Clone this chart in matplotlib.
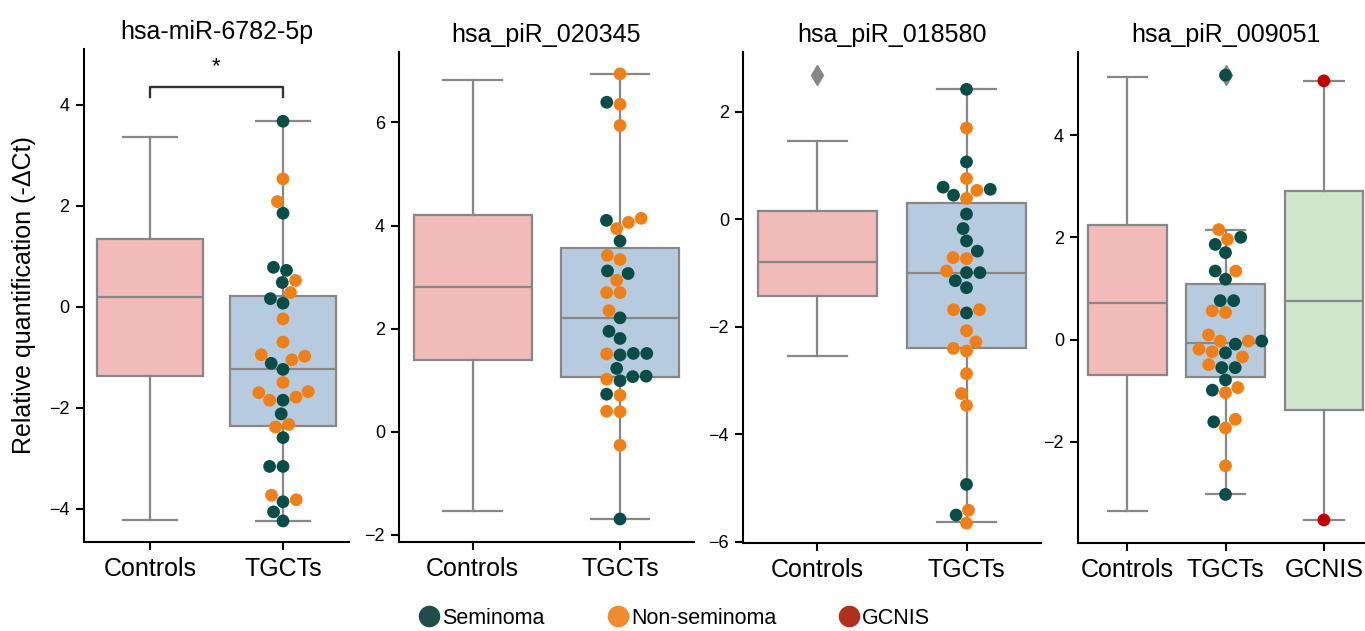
import pandas as pd
import matplotlib
matplotlib.use("Agg")
import matplotlib.pyplot as plt
from matplotlib.lines import Line2D
import seaborn as sns

plt.rcParams['font.family'] = ['Liberation Sans', 'DejaVu Sans']

# ---- data ----
titles = ["hsa-miR-6782-5p", "hsa_piR_020345", "hsa_piR_018580", "hsa_piR_009051"]
subtypes = ["Seminoma", "Non-seminoma", "GCNIS"]

# box stats: whislo, q1, median, q3, whishi
mir6782_ctrl_box = [-4.23, -1.37, 0.19, 1.34, 3.35]
mir6782_tgct_box = [-4.24, -2.36, -1.24, 0.22, 3.67]
mir6782_sem = [3.67, 1.85, 0.78, 0.72, 0.48, 0.16, 0.07, -1.12, -1.24, -1.85,
               -2.12, -2.59, -3.16, -3.16, -3.86, -4.06, -4.24]
mir6782_nonsem = [2.53, 2.08, 0.52, 0.28, -0.24, -0.70, -0.95, -1.05, -0.98,
                  -1.50, -1.70, -1.85, -1.79, -1.68, -2.38, -2.33, -3.82, -3.73]

pir020345_ctrl_box = [-1.53, 1.39, 2.80, 4.20, 6.83]
pir020345_tgct_box = [-1.69, 1.07, 2.20, 3.56, 6.94]
pir020345_sem = [6.39, 4.10, 3.70, 3.12, 3.07, 2.21, 1.95, 1.81, 1.49, 1.52,
                 1.52, 1.23, 1.08, 0.99, 1.07, 0.73, -1.69]
pir020345_nonsem = [6.94, 6.35, 5.94, 4.06, 4.14, 3.94, 3.42, 3.34, 2.94, 2.70,
                    2.70, 2.35, 1.51, 1.02, 0.71, 0.40, 0.39, -0.26]

pir018580_ctrl_box = [-2.55, -1.43, -0.79, 0.16, 1.46]
pir018580_ctrl_outliers = [2.68]
pir018580_tgct_box = [-5.63, -2.39, -1.00, 0.31, 2.42]
pir018580_sem = [2.42, 1.07, 0.60, 0.45, 0.56, 0.10, -0.17, -0.40, -0.59, -0.99,
                 -0.99, -1.14, -1.27, -1.74, -4.93, -5.50]
pir018580_nonsem = [1.70, 0.76, 0.54, 0.39, -0.71, -0.73, -0.96, -1.68, -1.68,
                    -2.07, -2.28, -2.40, -2.45, -2.87, -3.24, -3.46, -5.41, -5.65]

pir009051_ctrl_box = [-3.36, -0.70, 0.72, 2.24, 5.13]
pir009051_tgct_box = [-3.03, -0.74, -0.06, 1.08, 2.15]
pir009051_tgct_outliers = [5.17]
pir009051_gcnis_box = [-3.53, -1.38, 0.76, 2.90, 5.06]
pir009051_sem = [5.17, 2.00, 1.86, 1.70, 1.34, 1.18, 0.76, 0.76, -0.09, -0.03,
                 -0.26, -0.55, -0.55, -0.79, -0.99, -1.61, -3.03]
pir009051_nonsem = [2.15, 1.96, 1.34, 0.53, 0.56, 0.09, -0.03, -0.03, -0.19,
                    -0.24, -0.34, -0.49, -0.94, -1.04, -1.56, -1.73, -2.47]
pir009051_gcnis = [5.06, -3.53]

# ---- styling ----
BOX_COLORS = {"Controls": "#F0BBB8", "TGCTs": "#B7CBDE", "GCNIS": "#CFE6CB"}
DOT_COLORS = {"Seminoma": "#0A4D48", "Non-seminoma": "#EF8019", "GCNIS": "#BE0000"}
LEGEND_COLORS = {"Seminoma": "#1F4E4A", "Non-seminoma": "#F28A30", "GCNIS": "#B0301F"}
EDGE = "#878787"
W, H = 1365, 631


def px_rect(left, right, top, bottom):
    return [left / W, 1 - bottom / H, (right - left) / W, (bottom - top) / H]


def draw_panel(ax, title, groups, boxes, fliers, points, ylim, yticks):
    rows = [(g, st, v) for g, st, vals in points for v in vals]
    df = pd.DataFrame(rows, columns=["group", "subtype", "value"])
    sns.swarmplot(data=df, x="group", y="value", hue="subtype", order=groups,
                  hue_order=subtypes, palette=DOT_COLORS, size=9.2, linewidth=0,
                  ax=ax, legend=False, zorder=3)

    stats = [dict(whislo=b[0], q1=b[1], med=b[2], q3=b[3], whishi=b[4], fliers=f)
             for b, f in zip(boxes, fliers)]
    line = dict(color=EDGE, linewidth=1.6)
    bp = ax.bxp(stats, positions=range(len(groups)), widths=0.8, patch_artist=True,
                manage_ticks=False,
                boxprops=dict(edgecolor=EDGE, linewidth=1.6),
                whiskerprops=line, capprops=line, medianprops=line,
                flierprops=dict(marker="d", markerfacecolor=EDGE, markeredgecolor=EDGE,
                                markersize=10.5))
    for patch, g in zip(bp["boxes"], groups):
        patch.set_facecolor(BOX_COLORS[g])

    ax.set_xlim(-0.5, len(groups) - 0.5)
    ax.set_ylim(*ylim)
    ax.set_yticks(yticks)
    ax.set_xticks(range(len(groups)))
    ax.set_xticklabels(groups)
    ax.set_xlabel("")
    ax.set_ylabel("")
    ax.set_title(title, fontsize=18, pad=7)
    for side in ["top", "right"]:
        ax.spines[side].set_visible(False)
    for side in ["left", "bottom"]:
        ax.spines[side].set_linewidth(1.5)
    ax.tick_params(axis="y", labelsize=13, length=6, width=1.5, pad=4)
    ax.tick_params(axis="x", labelsize=18, length=6, width=1.5, pad=5)


fig = plt.figure(figsize=(W / 100, H / 100), dpi=100)

ax1 = fig.add_axes(px_rect(83.5, 349.5, 49, 541.7))
draw_panel(ax1, titles[0], ["Controls", "TGCTs"],
           [mir6782_ctrl_box, mir6782_tgct_box], [[], []],
           [("TGCTs", "Seminoma", mir6782_sem), ("TGCTs", "Non-seminoma", mir6782_nonsem)],
           (-4.65, 5.1), [-4, -2, 0, 2, 4])
# significance bracket Controls vs TGCTs
ax1.plot([0, 0, 1, 1], [4.15, 4.35, 4.35, 4.15], color="#333333", lw=1.7, clip_on=False)
ax1.text(0.5, 4.75, "*", ha="center", va="center", fontsize=16)
ax1.set_ylabel("Relative quantification (-ΔCt)", fontsize=18)
ax1.yaxis.set_label_coords(-0.18, 0.5)

ax2 = fig.add_axes(px_rect(399, 693.7, 51.7, 541.7))
draw_panel(ax2, titles[1], ["Controls", "TGCTs"],
           [pir020345_ctrl_box, pir020345_tgct_box], [[], []],
           [("TGCTs", "Seminoma", pir020345_sem), ("TGCTs", "Non-seminoma", pir020345_nonsem)],
           (-2.13, 7.37), [-2, 0, 2, 4, 6])

ax3 = fig.add_axes(px_rect(743, 1041, 51.7, 543))
draw_panel(ax3, titles[2], ["Controls", "TGCTs"],
           [pir018580_ctrl_box, pir018580_tgct_box], [pir018580_ctrl_outliers, []],
           [("TGCTs", "Seminoma", pir018580_sem), ("TGCTs", "Non-seminoma", pir018580_nonsem)],
           (-6.02, 3.12), [-6, -4, -2, 0, 2])

ax4 = fig.add_axes(px_rect(1078, 1373, 51.7, 543))
draw_panel(ax4, titles[3], ["Controls", "TGCTs", "GCNIS"],
           [pir009051_ctrl_box, pir009051_tgct_box, pir009051_gcnis_box],
           [[], pir009051_tgct_outliers, []],
           [("TGCTs", "Seminoma", pir009051_sem), ("TGCTs", "Non-seminoma", pir009051_nonsem),
            ("GCNIS", "GCNIS", pir009051_gcnis)],
           (-3.98, 5.63), [-2, 0, 2, 4])

handles = [Line2D([], [], marker="o", ls="", markersize=14.5, color=LEGEND_COLORS[s])
           for s in subtypes]
fig.legend(handles, subtypes, loc="center", bbox_to_anchor=(675 / W, 1 - 618 / H),
           ncol=3, frameon=False, fontsize=15.5, handlelength=0.9, handletextpad=0.15,
           columnspacing=2.95, borderaxespad=0, borderpad=0)

fig.savefig("out.png", dpi=100)
